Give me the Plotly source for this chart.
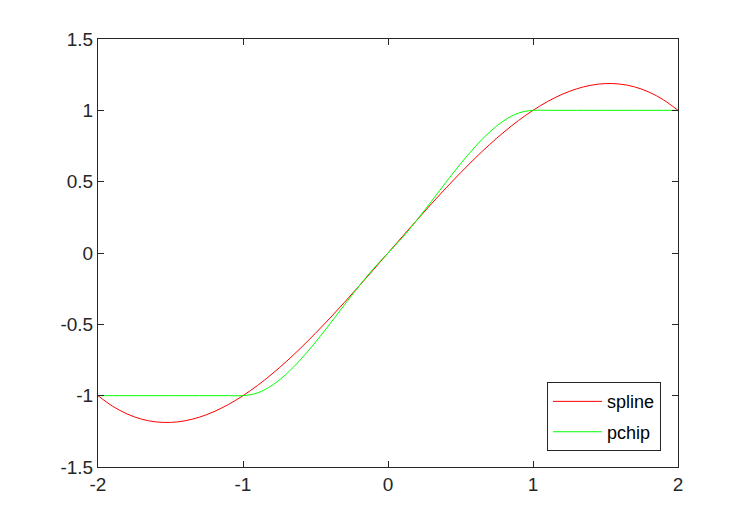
import plotly.graph_objects as go

x_vals = [round(-2 + 0.1 * i, 1) for i in range(41)]

spline_pos = [0.0, 0.1165, 0.232, 0.3455, 0.456, 0.5625, 0.664, 0.7595, 0.848, 0.9285,
              1.0, 1.0615, 1.112, 1.1505, 1.176, 1.1875, 1.184, 1.1645, 1.128, 1.0735, 1.0]
pchip_pos = [0.0, 0.109, 0.232, 0.363, 0.496, 0.625, 0.744, 0.847, 0.928, 0.981,
             1.0, 1.0, 1.0, 1.0, 1.0, 1.0, 1.0, 1.0, 1.0, 1.0, 1.0]

spline_y = [-v for v in spline_pos[:0:-1]] + spline_pos
pchip_y = [-v for v in pchip_pos[:0:-1]] + pchip_pos

x_ticks = [-2, -1, 0, 1, 2]
y_ticks = [-1.5, -1, -0.5, 0, 0.5, 1, 1.5]
y_labels = ["-1.5", "-1", "-0.5", "0", "0.5", "1", "1.5"]

FONT = "Liberation Sans, Arial, sans-serif"

fig = go.Figure()
fig.add_trace(go.Scatter(x=x_vals, y=spline_y, mode="lines", name="spline", legendgroup="a",
                         line=dict(color="#ff0000", width=1, shape="spline")))
fig.add_trace(go.Scatter(x=x_vals, y=pchip_y, mode="lines", name="pchip", legendgroup="b",
                         line=dict(color="#00ff00", width=1, shape="spline")))

axis_common = dict(showgrid=False, zeroline=False, showline=True, linecolor="#262626",
                   linewidth=1, mirror="ticks", ticks="inside", ticklen=6,
                   tickcolor="#262626", tickfont=dict(size=19, color="#262626", family=FONT))

fig.update_layout(
    width=750, height=525,
    margin=dict(l=90, r=80, t=31, b=66, autoexpand=False),
    paper_bgcolor="white", plot_bgcolor="white",
    xaxis=dict(range=[-2, 2], tickvals=x_ticks, ticktext=[str(v) for v in x_ticks], **axis_common),
    yaxis=dict(range=[-1.5, 1.5], tickvals=y_ticks, ticktext=y_labels, **axis_common),
    legend=dict(x=0.9707, y=0.037, xanchor="right", yanchor="bottom",
                bordercolor="#262626", borderwidth=1, bgcolor="white",
                font=dict(size=18, color="#000000", family=FONT),
                traceorder="grouped", tracegroupgap=4, itemwidth=49),
    showlegend=True,
)

fig.write_html("out.html")
